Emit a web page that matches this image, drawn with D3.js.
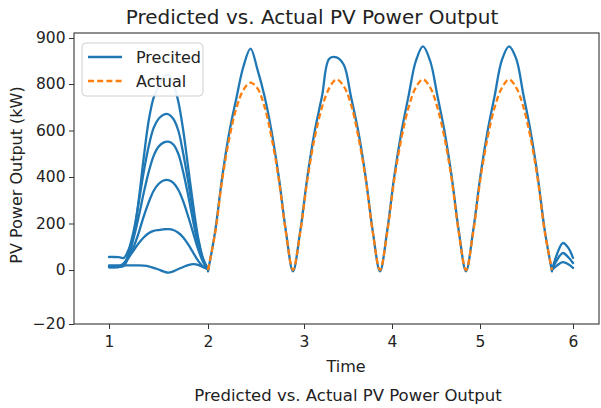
<!DOCTYPE html>
<html><head><meta charset="utf-8">
<script src="https://cdn.jsdelivr.net/npm/d3@7"></script>
<style>body{margin:0;background:#fff}svg{display:block}text{font-family:"DejaVu Sans",sans-serif}</style>
</head><body><svg id="c" width="601" height="408"></svg>
<script>
// ---------- data ----------
const xTicks = [1, 2, 3, 4, 5, 6];
const yTicks = [-20, 0, 200, 400, 600, 800, 900];

const time = [
  2.000, 2.074, 2.148, 2.221, 2.295, 2.369, 2.443, 2.517, 2.590, 2.664, 2.738, 2.812,
  2.885, 2.961, 3.040, 3.122, 3.205, 3.287, 3.369, 3.452, 3.534, 3.616, 3.699, 3.781,
  3.864, 3.945, 4.026, 4.108, 4.189, 4.271, 4.352, 4.434, 4.515, 4.597, 4.678, 4.759,
  4.841, 4.922, 5.004, 5.081, 5.158, 5.235, 5.312, 5.389, 5.466, 5.543, 5.620, 5.697, 5.774
];
const predicted = [
  -0.5, 165, 400, 590, 738, 838, 877, 830, 745, 592, 398, 165,
  -0.5, 168, 405, 598, 748, 855, 858, 842, 745, 598, 404, 168,
  -0.5, 168, 404, 596, 750, 850, 882, 850, 752, 596, 402, 168,
  -0.5, 168, 404, 596, 750, 852, 882, 855, 755, 598, 404, 168, -0.5
];
const actual = [
  0, 158, 388, 565, 695, 775, 803, 780, 700, 566, 388, 160,
  0, 162, 392, 570, 700, 782, 810, 790, 712, 576, 396, 163,
  0, 160, 390, 568, 700, 785, 810, 785, 700, 568, 390, 160,
  0, 160, 391, 568, 700, 783, 810, 785, 702, 570, 392, 162, 0
];

// first-day predicted runs (the fan between 1 and 2)
const fanTime = [1.00, 1.05, 1.10, 1.15, 1.20, 1.25, 1.30, 1.35, 1.40, 1.45, 1.50,
                 1.55, 1.60, 1.65, 1.70, 1.75, 1.80, 1.85, 1.90, 1.95, 2.00];
const fanRun1 = [13, 13, 13, 18, 60, 150, 300, 480, 640, 740, 790, 815, 820, 800, 725, 600, 440, 280, 140, 50, 4];
const fanRun2 = [56, 56, 55, 52, 90, 170, 290, 420, 530, 610, 650, 668, 670, 650, 600, 500, 380, 250, 130, 45, 4];
const fanRun3 = [13, 13, 13, 25, 70, 140, 230, 330, 420, 490, 530, 548, 552, 540, 500, 420, 320, 210, 110, 40, 4];
const fanRun4 = [13, 13, 13, 25, 55, 100, 160, 230, 290, 340, 370, 385, 387, 375, 345, 295, 230, 160, 90, 35, 4];
const fanRun5 = [13, 13, 16, 30, 55, 85, 115, 140, 158, 168, 172, 175, 176, 172, 160, 140, 110, 75, 40, 15, 4];
const fanRun6 = [20, 20, 20, 20, 20, 20, 20, 19, 16, 9, 2, -0.5, -1, -0.5, 4, 13, 21, 25, 22, 12, 4];

// last-day predicted runs (small bumps near 6)
const tailTime = [5.774, 5.83, 5.89, 5.95, 6.00];
const tailRun1 = [0, 70, 116, 95, 52];
const tailRun2 = [0, 45, 73, 55, 30];
const tailRun3 = [0, 20, 34, 25, 9];

const seriesNames = ["Precited", "Actual"];
const colors = ["#1f77b4", "#ff7f0e"];

// ---------- layout ----------
const W = 601, H = 408;
const frame = {left: 74, right: 599, top: 33, bottom: 324};

const svg = d3.select("#c");
svg.append("rect").attr("width", W).attr("height", H).attr("fill", "#fff");

const x = d3.scaleLinear().domain(xTicks).range([109, 208, 304, 392, 480, 573]);
const y = d3.scaleLinear().domain([-20, 0, 800, 900]).range([324, 270, 84, 38]);

svg.append("clipPath").attr("id", "clip").append("rect")
  .attr("x", frame.left).attr("y", frame.top)
  .attr("width", frame.right - frame.left).attr("height", frame.bottom - frame.top);

const plot = svg.append("g").attr("clip-path", "url(#clip)");
const line = d3.line().x(d => x(d[0])).y(d => y(d[1])).curve(d3.curveCatmullRom.alpha(0.5));
const zip = (t, v) => t.map((d, i) => [d, v[i]]);

const blueStyle = s => s.attr("fill", "none").attr("stroke", colors[0])
  .attr("stroke-width", 2.3).attr("stroke-linejoin", "round").attr("stroke-linecap", "round");

[fanRun1, fanRun2, fanRun3, fanRun4, fanRun5, fanRun6].forEach(r => {
  plot.append("path").datum(zip(fanTime, r)).attr("d", line).call(blueStyle);
});
[tailRun1, tailRun2, tailRun3].forEach(r => {
  plot.append("path").datum(zip(tailTime, r)).attr("d", line).call(blueStyle);
});
plot.append("path").datum(zip(time, predicted)).attr("d", line).call(blueStyle);
plot.append("path").datum(zip(time, actual)).attr("d", line)
  .attr("fill", "none").attr("stroke", colors[1]).attr("stroke-width", 2.3)
  .attr("stroke-dasharray", "6,3.2");

// frame
svg.append("rect").attr("x", frame.left).attr("y", frame.top)
  .attr("width", frame.right - frame.left).attr("height", frame.bottom - frame.top)
  .attr("fill", "none").attr("stroke", "#333").attr("stroke-width", 1.1);

// axes
const xa = svg.append("g").attr("transform", `translate(0,${frame.bottom})`)
  .call(d3.axisBottom(x).tickValues(xTicks).tickFormat(d3.format("d")).tickSize(5).tickPadding(7));
const ya = svg.append("g").attr("transform", `translate(${frame.left},0)`)
  .call(d3.axisLeft(y).tickValues(yTicks).tickFormat(d => d < 0 ? "\u2212" + Math.abs(d) : d).tickSize(5).tickPadding(3.5));
[xa, ya].forEach(a => {
  a.select(".domain").remove();
  a.selectAll("line").attr("stroke", "#333");
  a.selectAll("text").attr("font-size", 15.5).attr("fill", "#222").attr("font-family", "DejaVu Sans");
});

// titles
svg.append("text").attr("x", 312).attr("y", 24).attr("text-anchor", "middle")
  .attr("font-size", 20).attr("fill", "#222").text("Predicted vs. Actual PV Power Output");
svg.append("text").attr("x", 346).attr("y", 372).attr("text-anchor", "middle")
  .attr("font-size", 16).attr("fill", "#222").text("Time");
svg.append("text").attr("transform", "translate(22,175) rotate(-90)").attr("text-anchor", "middle")
  .attr("font-size", 16).attr("fill", "#222").text("PV Power Output (kW)");
svg.append("text").attr("x", 348).attr("y", 401).attr("text-anchor", "middle")
  .attr("font-size", 16.5).attr("fill", "#222").text("Predicted vs. Actual PV Power Output");

// legend
const lg = svg.append("g").attr("transform", "translate(82,43)");
lg.append("rect").attr("width", 121).attr("height", 53).attr("rx", 4)
  .attr("fill", "#fff").attr("fill-opacity", 0.9).attr("stroke", "#d0d0d0");
seriesNames.forEach((n, i) => {
  const yy = 14 + i * 24;
  lg.append("line").attr("x1", 6).attr("x2", 40).attr("y1", yy).attr("y2", yy)
    .attr("stroke", colors[i]).attr("stroke-width", 2.3)
    .attr("stroke-dasharray", i === 1 ? "6,3.2" : null);
  lg.append("text").attr("x", 54).attr("y", yy).attr("dy", "0.36em")
    .attr("font-size", 16).attr("fill", "#222").text(n);
});
</script></body></html>
